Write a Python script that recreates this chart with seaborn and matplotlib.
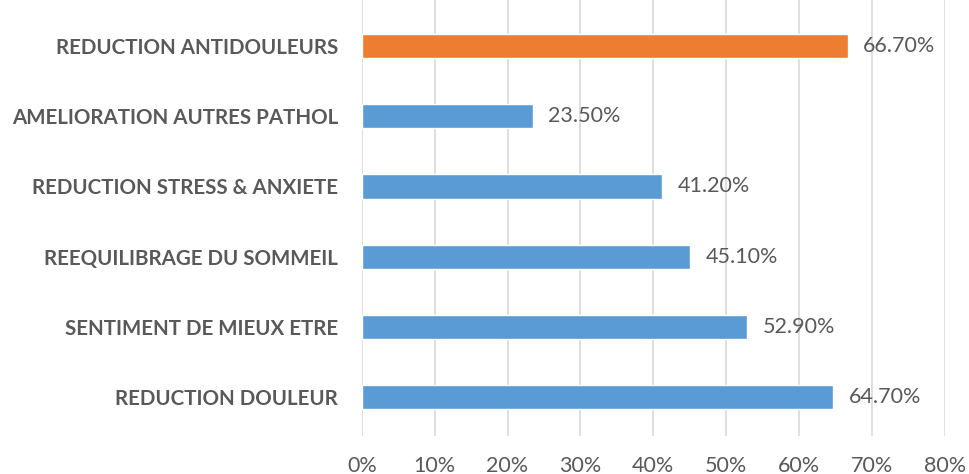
import numpy as np
import pandas as pd
import seaborn as sns
import matplotlib.pyplot as plt

categories = ["REDUCTION ANTIDOULEURS", "AMELIORATION AUTRES PATHOL",
              "REDUCTION STRESS & ANXIETE", "REEQUILIBRAGE DU SOMMEIL",
              "SENTIMENT DE MIEUX ETRE", "REDUCTION DOULEUR"]
values = [66.7, 23.5, 41.2, 45.1, 52.9, 64.7]
groups = ["highlight", "normal", "normal", "normal", "normal", "normal"]
ticks = [0, 10, 20, 30, 40, 50, 60, 70, 80]

df = pd.DataFrame({"cat": categories, "val": values, "grp": groups})

sns.set_style("white")
plt.rcParams['font.family'] = ['Lato', 'DejaVu Sans']
gray = "#595959"

fig = plt.figure(figsize=(9.7, 4.74), dpi=100)
ax = fig.add_axes([0.373, 0.08, 0.601, 0.92])
sns.barplot(data=df, x="val", y="cat", hue="grp", dodge=False, width=0.345,
            palette={"highlight": "#ED7D31", "normal": "#5B9BD5"},
            legend=False, ax=ax, saturation=1, zorder=3)

for i, v in enumerate(values):
    ax.text(v + 2.1, i, f"{v:.2f}%", va="center", ha="left", fontsize=15.5, color=gray)

ax.set_xlim(0, 80)
ax.set_ylim(5.555, -0.655)
ax.set_xticks(ticks)
ax.set_xticklabels([f"{t}%" for t in ticks], fontsize=15.5, color=gray)
ax.tick_params(axis="x", length=0, pad=14)
ax.tick_params(axis="y", length=0, pad=17)
for lab in ax.get_yticklabels():
    lab.set_fontweight("bold")
    lab.set_fontsize(14.8)
    lab.set_color(gray)
ax.set_xlabel("")
ax.set_ylabel("")
ax.grid(axis="x", color="#D9D9D9", linewidth=1.2, zorder=0)
for s in ax.spines.values():
    s.set_visible(False)
ax.set_axisbelow(True)

fig.savefig("out.png", dpi=100)
